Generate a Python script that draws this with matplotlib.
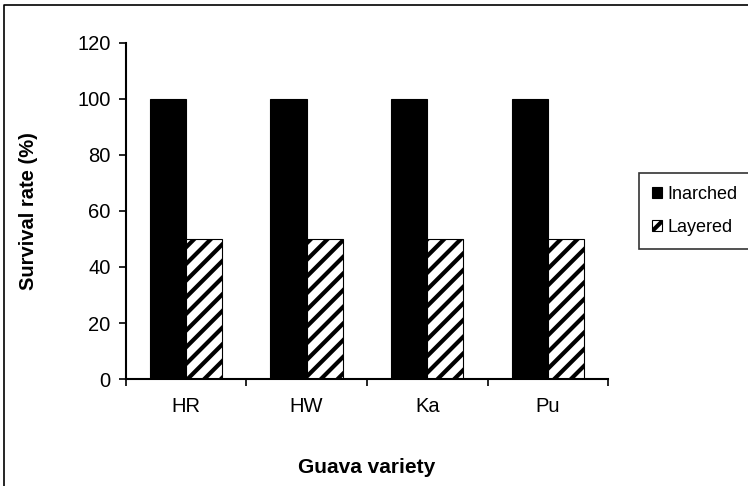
import matplotlib.pyplot as plt
import numpy as np
from matplotlib.lines import Line2D

# Survival of guava propagation methods
varieties = ['HR', 'HW', 'Ka', 'Pu']
inarched = [100, 100, 100, 100]
layered = [50, 50, 50, 50]

plt.rcParams['font.family'] = ['Liberation Sans', 'DejaVu Sans']
plt.rcParams['hatch.linewidth'] = 3.0

fig = plt.figure(figsize=(7.48, 4.86), dpi=100)
ax = fig.add_axes([0.168, 0.220, 0.645, 0.692])

x = np.arange(len(varieties))
width = 0.30
ax.bar(x - width / 2, inarched, width, color='black', edgecolor='black',
       linewidth=0.8, label='Inarched')
ax.bar(x + width / 2, layered, width, color='white', edgecolor='black',
       hatch='//', linewidth=0.8, label='Layered')

ax.set_xlim(-0.5, len(varieties) - 0.5)
ax.set_ylim(0, 120)
ax.set_yticks(range(0, 121, 20))
ax.set_xticks(x)
ax.set_xticklabels(varieties)
# tick marks sit between the categories
ax.set_xticks(np.arange(-0.5, len(varieties), 1), minor=True)
ax.tick_params(axis='x', which='major', length=0, pad=13, labelsize=14.5)
ax.tick_params(axis='x', which='minor', length=5, width=1.2, direction='out')
ax.tick_params(axis='y', length=5, width=1.2, labelsize=14.5, pad=6)

for side in ['top', 'right']:
    ax.spines[side].set_visible(False)
for side in ['left', 'bottom']:
    ax.spines[side].set_linewidth(1.5)

ax.set_ylabel('Survival rate (%)', fontsize=14.5, fontweight='bold', labelpad=28)
ax.set_xlabel('Guava variety', fontsize=15, fontweight='bold', labelpad=30)

leg = ax.legend(loc='center left', bbox_to_anchor=(1.045, 0.5), fontsize=13,
                frameon=True, fancybox=False, edgecolor='black',
                handlelength=0.6, handleheight=0.6, handletextpad=0.3,
                labelspacing=0.9, borderpad=0.7)
leg.get_frame().set_linewidth(1.2)

# Scanned page frame: left and top edges
fig.add_artist(Line2D([0.005, 0.005, 1.0], [0.0, 0.99, 0.99], transform=fig.transFigure,
                      color='black', linewidth=1.2))

fig.savefig('out.png', dpi=100)
